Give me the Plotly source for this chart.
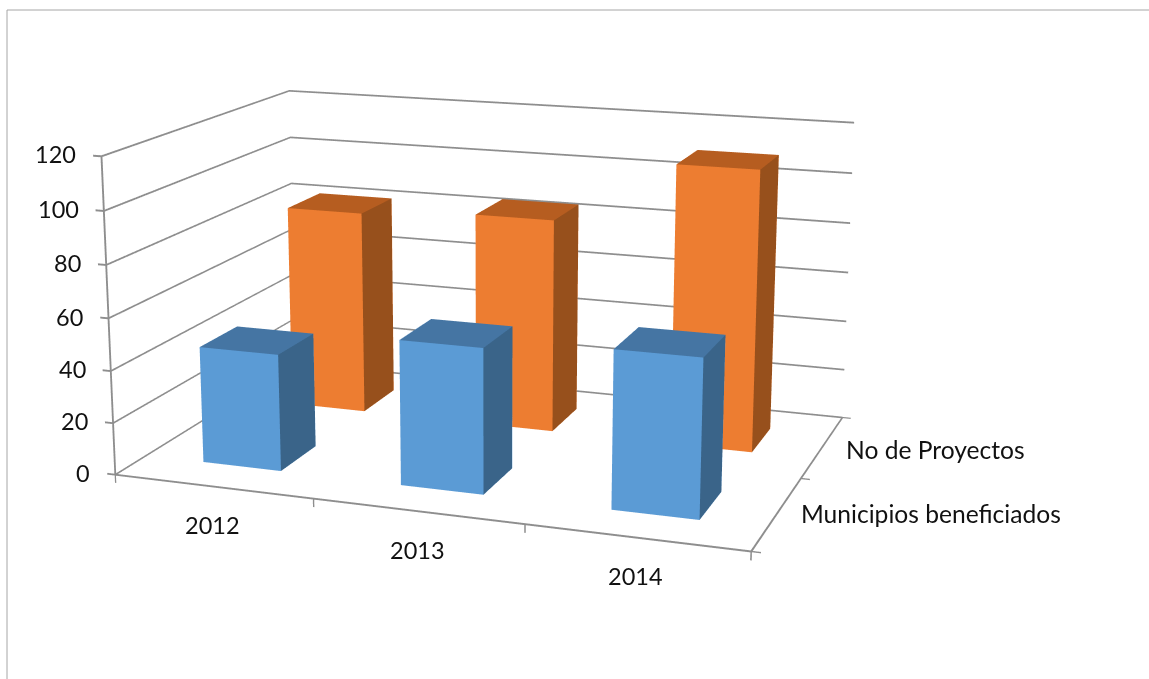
import math
import plotly.graph_objects as go

years = ["2012", "2013", "2014"]
series = ["Municipios beneficiados", "No de Proyectos"]
municipios = [45, 55, 59]
proyectos = [82, 85, 110]
z_ticks = [0, 20, 40, 60, 80, 100, 120]

W, H = 1149, 679
FOCAL, PX, PY = 2229.7, 493.3, 294.7
FOVY = 2 * math.atan(PY / FOCAL)
HALF_X, HALF_Y = 0.2, 0.1975
N_X, N_Y, Z_MAX = len(years), len(series), z_ticks[-1]
TICK_X, TICK_Z = 0.042, 3.2
LINE_X, LINE_Z = 0.0048, 0.36  # half thickness of the drawn lines along x and along z
X_RANGE = [-0.06, N_X + 0.06]
Y_RANGE = [-0.06, N_Y + 0.06]
Z_RANGE = [-4, Z_MAX + 4]
ASPECT = dict(x=1.04, y=0.6692 * 2.12 / 2, z=0.4982 * 128 / 120)
SERIES_YSHIFT = [0, -3]

BLUE = ("#5B9BD5", "#4575A3", "#3A6489")
ORANGE = ("#ED7D31", "#B65D20", "#97501C")
GREY = "#8E8E8E"
FLAT = dict(ambient=1, diffuse=0, specular=0, fresnel=0, roughness=1)


def bar(c, r, v, cols):
    x0, x1 = c + 0.5 - HALF_X, c + 0.5 + HALF_X
    y0, y1 = r + 0.5 - HALF_Y, r + 0.5 + HALF_Y
    xs = [x0, x1, x1, x0, x0, x1, x1, x0]
    ys = [y0, y0, y1, y1, y0, y0, y1, y1]
    zs = [0, 0, 0, 0, v, v, v, v]
    i = [0, 0, 4, 4, 1, 1, 0, 0, 3, 3, 2, 2]
    j = [1, 2, 5, 6, 2, 6, 1, 5, 0, 4, 3, 7]
    k = [2, 3, 6, 7, 6, 5, 5, 4, 4, 7, 7, 6]
    fc = [cols[0]] * 2 + [cols[1]] * 2 + [cols[2]] * 2 + [cols[0]] * 6
    return go.Mesh3d(x=xs, y=ys, z=zs, i=i, j=j, k=k, facecolor=fc, flatshading=True, hoverinfo="skip", lighting=FLAT)


def ribbons(parts):
    xs, ys, zs, i, j, k = [], [], [], [], [], []
    for p, q, dx, dz in parts:
        n = len(xs)
        for (a, s) in ((p, -1), (q, -1), (q, 1), (p, 1)):
            xs.append(a[0] + s * dx)
            ys.append(a[1])
            zs.append(a[2] + s * dz)
        i += [n, n]
        j += [n + 1, n + 2]
        k += [n + 2, n + 3]
    return go.Mesh3d(x=xs, y=ys, z=zs, i=i, j=j, k=k, color=GREY, flatshading=True, hoverinfo="skip", lighting=FLAT)


parts = []
for t in z_ticks:
    parts.append(((0, 0, t), (0, N_Y, t), 0, LINE_Z))             # left wall
    parts.append(((0, N_Y, t), (N_X, N_Y, t), 0, LINE_Z))         # back wall
    parts.append(((-TICK_X, 0, t), (0, 0, t), 0, LINE_Z))         # z tick
parts.append(((0, 0, 0), (0, 0, Z_MAX), LINE_X, 0))               # z axis
parts.append(((0, 0, 0), (N_X, 0, 0), 0, LINE_Z))                 # x axis
parts.append(((N_X, 0, 0), (N_X, N_Y, 0), LINE_X, 0))             # y axis
for i_ in range(N_X + 1):
    parts.append(((i_, 0, 0), (i_, 0, -TICK_Z), LINE_X * 0.7, 0))  # x tick
for j_ in range(N_Y + 1):
    parts.append(((N_X, j_, 0), (N_X + TICK_X, j_, 0), 0, LINE_Z * 0.7))  # y tick

fig = go.Figure()
fig.add_trace(ribbons(parts))
for c, v in enumerate(proyectos):
    fig.add_trace(bar(c, 1, v, ORANGE))
for c, v in enumerate(municipios):
    fig.add_trace(bar(c, 0, v, BLUE))

font_num = dict(family="Lato", size=23.5, color="#111111")
font_cat = dict(family="Lato", size=24.6, color="#111111")
ann = []
for i, y in enumerate(years):
    ann.append(dict(x=i + 0.5, y=0, z=0, text=y, showarrow=False, font=font_num, yshift=-38))
for j, s in enumerate(series):
    ann.append(dict(x=N_X, y=j + 0.5, z=0, text=s, showarrow=False, font=font_cat, xanchor="left", xshift=22, yshift=SERIES_YSHIFT[j]))
for t in z_ticks:
    ann.append(dict(x=0, y=0, z=t, text=str(t), showarrow=False, font=font_num, xanchor="right", xshift=-23, yshift=2))

fig.update_layout(
    width=W, height=H, margin=dict(l=0, r=0, t=0, b=0), paper_bgcolor="white", showlegend=False,
    scene=dict(
        domain=dict(x=[0, 2 * PX / W], y=[1 - 2 * PY / H, 1]),
        aspectmode="manual", aspectratio=ASPECT,
        camera=dict(eye=dict(x=1.1382, y=-3.2174, z=0.8547), center=dict(x=0, y=0, z=0),
                    up=dict(x=-0.0079, y=0.0154, z=1), projection=dict(type="perspective")),
        xaxis=dict(range=X_RANGE, visible=False),
        yaxis=dict(range=Y_RANGE, visible=False),
        zaxis=dict(range=Z_RANGE, visible=False),
        annotations=ann,
    ),
    shapes=[
        dict(type="line", xref="paper", yref="paper", x0=7 / W, x1=1, y0=1 - 10 / H, y1=1 - 10 / H, line=dict(color="#A6A6A6", width=1)),
        dict(type="line", xref="paper", yref="paper", x0=7 / W, x1=7 / W, y0=0, y1=1 - 10 / H, line=dict(color="#A6A6A6", width=1)),
    ],
)
post = """
document.body.style.margin='0';document.body.style.overflow='hidden';
(function(){var gd=document.querySelector('.plotly-graph-div');var n=0;
var t=setInterval(function(){n++;var s=gd._fullLayout&&gd._fullLayout.scene&&gd._fullLayout.scene._scene;
if(s&&s.glplot){s.glplot.fovy=%f;s.glplot.redraw();clearInterval(t);}else if(n>100){clearInterval(t);}},50);})();
""" % FOVY
fig.write_html("out.html", post_script=post, config=dict(displayModeBar=False))
